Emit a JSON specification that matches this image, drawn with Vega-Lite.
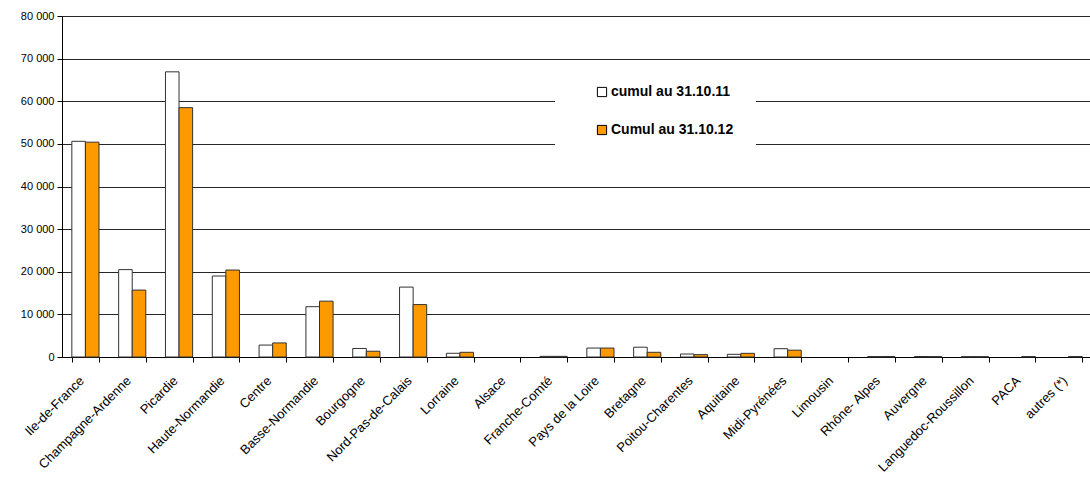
{
  "$schema": "https://vega.github.io/schema/vega-lite/v6.json",
  "autosize": {"type": "none"},
  "padding": {"left": 62, "top": 16, "right": 0, "bottom": 120},
  "width": 1030,
  "height": 341,
  "background": "white",
  "config": {
    "font": "Liberation Sans",
    "view": {"stroke": null}
  },
  "data": {
    "values": [
      {"region": "Ile-de-France", "serie": "cumul au 31.10.11", "valeur": 50600},
      {"region": "Ile-de-France", "serie": "Cumul au 31.10.12", "valeur": 50400},
      {"region": "Champagne-Ardenne", "serie": "cumul au 31.10.11", "valeur": 20500},
      {"region": "Champagne-Ardenne", "serie": "Cumul au 31.10.12", "valeur": 15700},
      {"region": "Picardie", "serie": "cumul au 31.10.11", "valeur": 66900},
      {"region": "Picardie", "serie": "Cumul au 31.10.12", "valeur": 58500},
      {"region": "Haute-Normandie", "serie": "cumul au 31.10.11", "valeur": 19000},
      {"region": "Haute-Normandie", "serie": "Cumul au 31.10.12", "valeur": 20400},
      {"region": "Centre", "serie": "cumul au 31.10.11", "valeur": 2800},
      {"region": "Centre", "serie": "Cumul au 31.10.12", "valeur": 3300},
      {"region": "Basse-Normandie", "serie": "cumul au 31.10.11", "valeur": 11800},
      {"region": "Basse-Normandie", "serie": "Cumul au 31.10.12", "valeur": 13100},
      {"region": "Bourgogne", "serie": "cumul au 31.10.11", "valeur": 2000},
      {"region": "Bourgogne", "serie": "Cumul au 31.10.12", "valeur": 1350},
      {"region": "Nord-Pas-de-Calais", "serie": "cumul au 31.10.11", "valeur": 16400},
      {"region": "Nord-Pas-de-Calais", "serie": "Cumul au 31.10.12", "valeur": 12300},
      {"region": "Lorraine", "serie": "cumul au 31.10.11", "valeur": 870},
      {"region": "Lorraine", "serie": "Cumul au 31.10.12", "valeur": 1100},
      {"region": "Alsace", "serie": "cumul au 31.10.11", "valeur": 0},
      {"region": "Alsace", "serie": "Cumul au 31.10.12", "valeur": 0},
      {"region": "Franche-Comté", "serie": "cumul au 31.10.11", "valeur": 150},
      {"region": "Franche-Comté", "serie": "Cumul au 31.10.12", "valeur": 150},
      {"region": "Pays de la Loire", "serie": "cumul au 31.10.11", "valeur": 2100},
      {"region": "Pays de la Loire", "serie": "Cumul au 31.10.12", "valeur": 2100},
      {"region": "Bretagne", "serie": "cumul au 31.10.11", "valeur": 2300},
      {"region": "Bretagne", "serie": "Cumul au 31.10.12", "valeur": 1100},
      {"region": "Poitou-Charentes", "serie": "cumul au 31.10.11", "valeur": 700},
      {"region": "Poitou-Charentes", "serie": "Cumul au 31.10.12", "valeur": 550},
      {"region": "Aquitaine", "serie": "cumul au 31.10.11", "valeur": 630},
      {"region": "Aquitaine", "serie": "Cumul au 31.10.12", "valeur": 860},
      {"region": "Midi-Pyrénées", "serie": "cumul au 31.10.11", "valeur": 1950},
      {"region": "Midi-Pyrénées", "serie": "Cumul au 31.10.12", "valeur": 1600},
      {"region": "Limousin", "serie": "cumul au 31.10.11", "valeur": 0},
      {"region": "Limousin", "serie": "Cumul au 31.10.12", "valeur": 0},
      {"region": "Rhône- Alpes", "serie": "cumul au 31.10.11", "valeur": 100},
      {"region": "Rhône- Alpes", "serie": "Cumul au 31.10.12", "valeur": 120},
      {"region": "Auvergne", "serie": "cumul au 31.10.11", "valeur": 110},
      {"region": "Auvergne", "serie": "Cumul au 31.10.12", "valeur": 90},
      {"region": "Languedoc-Roussillon", "serie": "cumul au 31.10.11", "valeur": 80},
      {"region": "Languedoc-Roussillon", "serie": "Cumul au 31.10.12", "valeur": 80},
      {"region": "PACA", "serie": "cumul au 31.10.11", "valeur": 0},
      {"region": "PACA", "serie": "Cumul au 31.10.12", "valeur": 100},
      {"region": "autres (*)", "serie": "cumul au 31.10.11", "valeur": 0},
      {"region": "autres (*)", "serie": "Cumul au 31.10.12", "valeur": 110}
    ]
  },
  "mark": {"type": "bar", "stroke": "#333333", "strokeWidth": 1},
  "encoding": {
    "x": {
      "field": "region",
      "type": "nominal",
      "sort": null,
      "title": null,
      "scale": {"paddingInner": 0.42, "paddingOuter": 0.21},
      "axis": {
        "labelAngle": -45,
        "labelFontSize": 13,
        "labelColor": "#000000",
        "tickBand": "extent",
        "tickColor": "#000000",
        "tickSize": 5,
        "domainColor": "#000000",
        "labelPadding": 12,
        "labelOffset": -8,
        "labelOverlap": false,
        "labelLimit": 250
      }
    },
    "xOffset": {"field": "serie", "type": "nominal", "sort": null},
    "y": {
      "field": "valeur",
      "type": "quantitative",
      "title": null,
      "scale": {"domain": [0, 80000], "nice": false},
      "axis": {
        "values": [0, 10000, 20000, 30000, 40000, 50000, 60000, 70000, 80000],
        "labelExpr": "replace(format(datum.value, ','), ',', ' ')",
        "labelFontSize": 11,
        "labelColor": "#000000",
        "grid": true,
        "gridColor": "#000000",
        "gridOpacity": 0.85,
        "tickColor": "#000000",
        "tickSize": 5,
        "domainColor": "#000000",
        "labelPadding": 3
      }
    },
    "strokeOpacity": {
      "condition": {"test": "datum.valeur <= 0", "value": 0},
      "value": 1
    },
    "color": {
      "field": "serie",
      "type": "nominal",
      "sort": null,
      "scale": {"range": ["#FFFFFF", "#FF9900"]},
      "legend": {
        "title": null,
        "orient": "none",
        "legendX": 493,
        "legendY": 47,
        "fillColor": "white",
        "padding": 22,
        "symbolOffset": 18,
        "symbolType": "square",
        "symbolSize": 85,
        "symbolStrokeColor": "#000000",
        "symbolStrokeWidth": 1,
        "labelFontSize": 14,
        "labelFontWeight": "bold",
        "labelColor": "#000000",
        "labelOffset": 2,
        "rowPadding": 24,
        "labelLimit": 300
      }
    }
  }
}
